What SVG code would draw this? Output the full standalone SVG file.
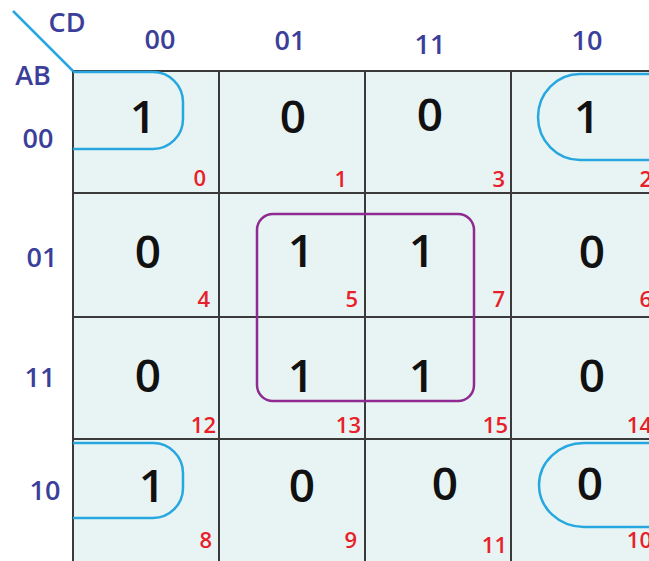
<svg xmlns="http://www.w3.org/2000/svg" width="649" height="561" viewBox="0 0 649 561">
<style>
.hdr{font-family:"Open Sans","Noto Sans",sans-serif;font-size:27px;font-weight:600;fill:#3b3f99;text-anchor:middle}
.val{font-family:"Open Sans","Noto Sans",sans-serif;font-size:46px;font-weight:600;fill:#111;text-anchor:middle}
.idx{font-family:"Open Sans","Noto Sans",sans-serif;font-size:22px;font-weight:600;fill:#e8202a;text-anchor:end}
.grid{stroke:#3a3a3a;stroke-width:2;fill:none}
.loop{stroke:#27a7e0;stroke-width:2.5;fill:none}
.quad{stroke:#8e2a91;stroke-width:2.5;fill:none}
</style>
<rect x="0" y="0" width="649" height="561" fill="#ffffff"/>
<rect x="73" y="71" width="580" height="494" fill="#e8f4f4"/>
<g id="grid">
<path class="grid" d="M73,71 H649 M73,193 H649 M73,317 H649 M73,439 H649 M73,71 V561 M219,71 V561 M365,71 V561 M511,71 V561"/>
</g>
<g id="labels">
<line x1="13" y1="11" x2="73" y2="71" stroke="#27a7e0" stroke-width="2.5"/>
<text class="hdr" x="67" y="32">CD</text>
<text class="hdr" x="33" y="85">AB</text>
<text class="hdr" x="160" y="49">00</text>
<text class="hdr" x="290" y="50">01</text>
<text class="hdr" x="430" y="54">11</text>
<text class="hdr" x="587" y="50">10</text>
<text class="hdr" x="38" y="148">00</text>
<text class="hdr" x="42" y="267">01</text>
<text class="hdr" x="40" y="387">11</text>
<text class="hdr" x="45" y="500">10</text>
</g>
<g id="cells">
<g id="m0"><text class="val" x="143" y="133">1</text><text class="idx" x="206" y="186">0</text></g>
<g id="m1"><text class="val" x="293" y="133">0</text><text class="idx" x="347" y="187">1</text></g>
<g id="m3"><text class="val" x="430" y="131">0</text><text class="idx" x="505" y="187">3</text></g>
<g id="m2"><text class="val" x="587" y="133">1</text><text class="idx" x="652" y="187">2</text></g>
<g id="m4"><text class="val" x="148" y="268">0</text><text class="idx" x="210" y="307">4</text></g>
<g id="m5"><text class="val" x="301" y="267">1</text><text class="idx" x="358" y="307">5</text></g>
<g id="m7"><text class="val" x="422" y="267">1</text><text class="idx" x="505" y="307">7</text></g>
<g id="m6"><text class="val" x="592" y="268">0</text><text class="idx" x="652" y="307">6</text></g>
<g id="m12"><text class="val" x="148" y="392">0</text><text class="idx" x="216" y="433">12</text></g>
<g id="m13"><text class="val" x="301" y="392">1</text><text class="idx" x="361" y="433">13</text></g>
<g id="m15"><text class="val" x="422" y="392">1</text><text class="idx" x="508" y="433">15</text></g>
<g id="m14"><text class="val" x="592" y="392">0</text><text class="idx" x="652" y="433">14</text></g>
<g id="m8"><text class="val" x="152" y="502">1</text><text class="idx" x="212" y="548">8</text></g>
<g id="m9"><text class="val" x="302" y="502">0</text><text class="idx" x="357" y="548">9</text></g>
<g id="m11"><text class="val" x="445" y="500">0</text><text class="idx" x="507" y="553">11</text></g>
<g id="m10"><text class="val" x="590" y="500">0</text><text class="idx" x="652" y="548">10</text></g>
</g>
<g id="groups">
<rect class="quad" x="257" y="214" width="217" height="187" rx="16"/>
<path class="loop" d="M73,72 H153 A30,30 0 0 1 183,102 V119 A30,30 0 0 1 153,149 H73"/>
<path class="loop" d="M649,74 H580 A42,43 0 0 0 580,160 H649"/>
<path class="loop" d="M73,443 H153 A30,30 0 0 1 183,473 V488 A30,30 0 0 1 153,518 H73"/>
<path class="loop" d="M649,443 H584 A45,42 0 0 0 584,527 H649"/>
</g>
</svg>
